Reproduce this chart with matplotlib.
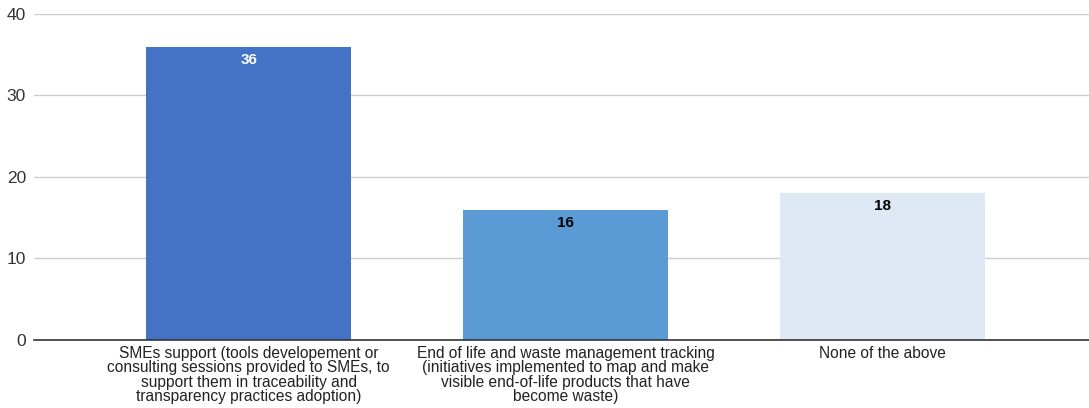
import matplotlib
matplotlib.use("Agg")
import matplotlib.pyplot as plt

categories = [
    "SMEs support (tools developement or\nconsulting sessions provided to SMEs, to\nsupport them in traceability and\ntransparency practices adoption)",
    "End of life and waste management tracking\n(initiatives implemented to map and make\nvisible end-of-life products that have\nbecome waste)",
    "None of the above",
]
values = [36, 16, 18]
bar_colors = ["#4472C4", "#5B9BD5", "#DEE9F5"]
label_colors = ["white", "black", "black"]
yticks = [0, 10, 20, 30, 40]

plt.rcParams["font.family"] = ["Liberation Sans", "DejaVu Sans"]

fig = plt.figure(figsize=(10.89, 4.08), dpi=100)
ax = fig.add_axes([0.0312, 0.1667, 0.9688, 0.799])

x = list(range(len(categories)))
bars = ax.bar(x, values, width=0.647, color=bar_colors, zorder=2)

for rect, v, c in zip(bars, values, label_colors):
    ax.annotate(str(v), (rect.get_x() + rect.get_width() / 2, v),
                xytext=(0, -9.5), textcoords="offset points",
                ha="center", va="center", fontsize=11,
                fontweight="bold", color=c, zorder=3)

ax.set_xlim(-0.677, 2.65)
ax.set_ylim(0, 40)
ax.set_yticks(yticks)
ax.set_xticks(x)
ax.set_xticklabels(categories, fontsize=11.2, linespacing=0.97, color="#222222", va="top")
ax.tick_params(axis="x", length=0, pad=4)
ax.tick_params(axis="y", length=0, pad=5.8, labelsize=12.5, labelcolor="#333333")

ax.grid(axis="y", color="#cccccc", linewidth=1, zorder=0)
for s in ["top", "right", "left"]:
    ax.spines[s].set_visible(False)
ax.spines["bottom"].set_color("#333333")
ax.spines["bottom"].set_linewidth(1.2)
ax.spines["bottom"].set_zorder(3)

fig.savefig("out.png", dpi=100)
